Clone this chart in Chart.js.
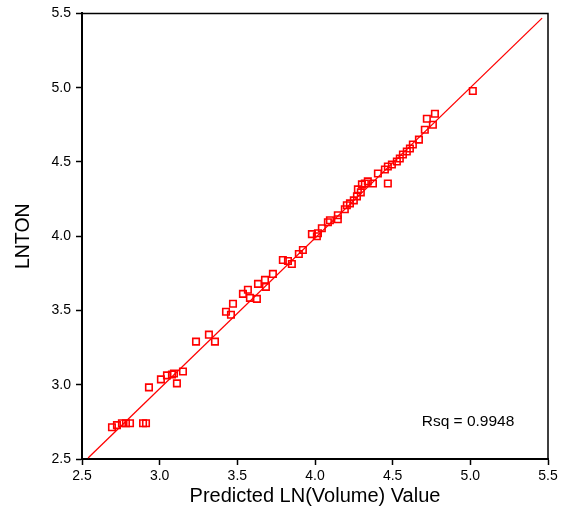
<!DOCTYPE html>
<html>
<head>
<meta charset="utf-8">
<script src="https://cdn.jsdelivr.net/npm/chart.js@4.4.0/dist/chart.umd.min.js"></script>
<style>
  html, body { margin: 0; padding: 0; background: #fff; }
  #grafico { display: block; }
</style>
</head>
<body>
<canvas id="grafico" width="567" height="514"></canvas>
<script>
const predito = [
  2.693, 2.725, 2.757, 2.783, 2.809, 2.893, 2.912, 2.931, 3.008, 3.047,
  3.079, 3.092, 3.111, 3.150, 3.234, 3.317, 3.356, 3.427, 3.459, 3.472,
  3.536, 3.568, 3.581, 3.626, 3.633, 3.678, 3.684, 3.729, 3.793, 3.826,
  3.851, 3.896, 3.922, 3.980, 4.012, 4.019, 4.044, 4.083, 4.096, 4.147,
  4.147, 4.192, 4.205, 4.225, 4.250, 4.270, 4.276, 4.295, 4.302, 4.321,
  4.340, 4.373, 4.405, 4.469, 4.450, 4.469, 4.495, 4.527, 4.546, 4.566,
  4.591, 4.611, 4.630, 4.669, 4.707, 4.720, 4.759, 4.772, 5.016
];
const lnton = [
  2.714, 2.728, 2.741, 2.741, 2.741, 2.741, 2.741, 2.982, 3.036, 3.063,
  3.069, 3.076, 3.009, 3.089, 3.290, 3.337, 3.290, 3.491, 3.471, 3.545,
  3.612, 3.639, 3.585, 3.578, 3.679, 3.706, 3.659, 3.746, 3.840, 3.833,
  3.813, 3.880, 3.907, 4.014, 4.000, 4.020, 4.054, 4.094, 4.107, 4.114,
  4.141, 4.181, 4.208, 4.221, 4.241, 4.268, 4.315, 4.295, 4.349, 4.355,
  4.369, 4.355, 4.422, 4.355, 4.449, 4.469, 4.483, 4.503, 4.523, 4.550,
  4.570, 4.590, 4.617, 4.650, 4.717, 4.791, 4.750, 4.824, 4.978
];
// reta ajustada (extremos)
const retaX = [2.539, 5.462];
const retaY = [2.507, 5.468];
const rotuloRsq = 'Rsq = 0.9948';
const eixoMin = 2.5;
const eixoMax = 5.5;
const passo = 0.5;

const pontos = predito.map((v, i) => ({ x: v, y: lnton[i] }));
const reta = retaX.map((v, i) => ({ x: v, y: retaY[i] }));

const fonte = '"Liberation Sans", Arial, sans-serif';

// moldura superior/direita + texto do Rsq
const moldura = {
  id: 'moldura',
  afterDraw(chart) {
    const { ctx, chartArea: a, scales } = chart;
    ctx.save();
    ctx.strokeStyle = '#000';
    ctx.lineWidth = 1.5;
    ctx.beginPath();
    ctx.moveTo(a.left, a.top);
    ctx.lineTo(a.right, a.top);
    ctx.lineTo(a.right, a.bottom);
    ctx.stroke();
    ctx.fillStyle = '#000';
    ctx.font = '15.5px ' + fonte;
    ctx.textAlign = 'center';
    ctx.textBaseline = 'middle';
    ctx.fillText(rotuloRsq, scales.x.getPixelForValue(4.985), scales.y.getPixelForValue(2.754));
    ctx.restore();
  }
};

const eixo = (titulo, pad, tam) => ({
  type: 'linear',
  min: eixoMin,
  max: eixoMax,
  ticks: {
    stepSize: passo,
    color: '#000',
    font: { family: fonte, size: 14 },
    padding: pad,
    callback: v => v.toFixed(1)
  },
  grid: {
    drawOnChartArea: false,
    drawTicks: true,
    tickLength: 6,
    tickWidth: 1.5,
    tickColor: '#000'
  },
  border: { color: '#000', width: 2 },
  title: {
    display: true,
    text: titulo,
    color: '#000',
    font: { family: fonte, size: tam }
  }
});

const escalaX = eixo('Predicted LN(Volume) Value', 3, 20);
escalaX.title.padding = { top: 0, bottom: 6 };
escalaX.afterFit = s => { s.height = 55; };
const escalaY = eixo('LNTON', 5, 19.5);
escalaY.title.padding = { top: 12, bottom: 0 };
escalaY.afterFit = s => { s.width = 82; };

new Chart(document.getElementById('grafico').getContext('2d'), {
  type: 'scatter',
  data: {
    datasets: [
      {
        label: 'LNTON',
        data: pontos,
        pointStyle: 'rect',
        pointRadius: 4.6,
        pointBorderWidth: 1.6,
        pointBorderColor: '#ff0000',
        pointBackgroundColor: 'rgba(0,0,0,0)'
      },
      {
        type: 'line',
        label: 'Ajuste',
        data: reta,
        borderColor: '#ff0000',
        borderWidth: 1.3,
        pointRadius: 0,
        fill: false,
        tension: 0
      }
    ]
  },
  options: {
    responsive: false,
    animation: false,
    layout: { padding: { left: 0, top: 11, right: 19, bottom: 0 } },
    plugins: {
      legend: { display: false },
      tooltip: { enabled: false }
    },
    scales: { x: escalaX, y: escalaY }
  },
  plugins: [moldura]
});
</script>
</body>
</html>
